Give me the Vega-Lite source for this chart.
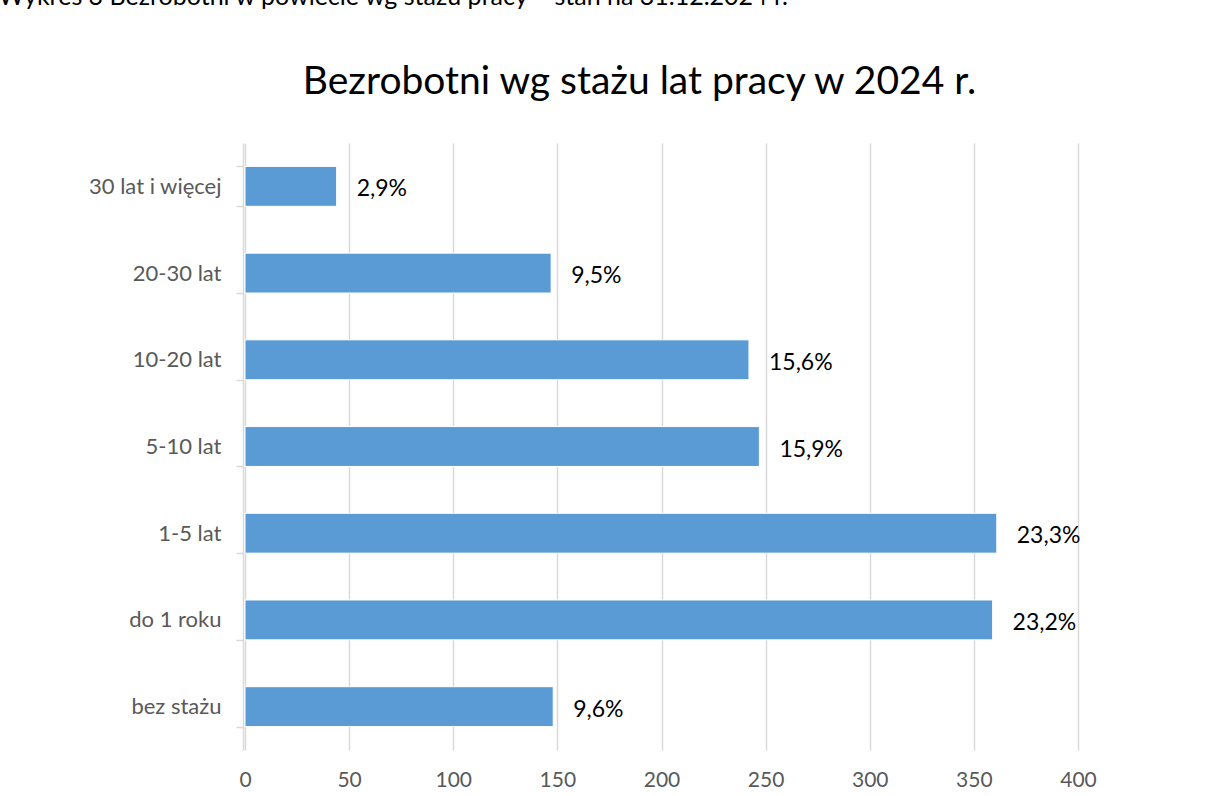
{
  "$schema": "https://vega.github.io/schema/vega-lite/v6.json",
  "width": 833,
  "height": 607,
  "autosize": {"type": "none"},
  "padding": {"left": 245, "top": 143, "right": 130, "bottom": 46},
  "background": "white",
  "title": {
    "text": "Bezrobotni wg stażu lat pracy w 2024 r.",
    "anchor": "middle",
    "frame": "group",
    "dx": -22,
    "offset": -118,
    "fontSize": 39,
    "font": "Lato",
    "fontWeight": "normal",
    "color": "#000000"
  },
  "config": {"view": {"stroke": null}, "font": "Lato"},
  "data": {
    "values": [
      {"kategoria": "30 lat i więcej", "liczba": 44, "label": "2,9%"},
      {"kategoria": "20-30 lat", "liczba": 147, "label": "9,5%"},
      {"kategoria": "10-20 lat", "liczba": 242, "label": "15,6%"},
      {"kategoria": "5-10 lat", "liczba": 247, "label": "15,9%"},
      {"kategoria": "1-5 lat", "liczba": 361, "label": "23,3%"},
      {"kategoria": "do 1 roku", "liczba": 359, "label": "23,2%"},
      {"kategoria": "bez stażu", "liczba": 148, "label": "9,6%"}
    ]
  },
  "encoding": {
    "y": {
      "field": "kategoria",
      "type": "nominal",
      "sort": null,
      "scale": {"paddingInner": 0.54, "paddingOuter": 0.27},
      "axis": {
        "title": "Wykres 3 Bezrobotni w powiecie wg stażu pracy – stan na 31.12.2024 r.",
        "titleX": -245,
        "titleY": -139,
        "titleAngle": 0,
        "titleAlign": "left",
        "titleBaseline": "alphabetic",
        "titleFontSize": 25,
        "titleFontWeight": "normal",
        "titleColor": "#000000",
        "titleFont": "Lato",
        "domainColor": "#d9d9d9",
        "domainWidth": 1.5,
        "tickColor": "#d9d9d9",
        "tickWidth": 1.5,
        "tickSize": 7,
        "tickBand": "extent",
        "offset": 2,
        "labelPadding": 15,
        "labelFontSize": 22,
        "labelColor": "#595959",
        "labelFont": "Lato",
        "grid": false
      }
    },
    "x": {
      "field": "liczba",
      "type": "quantitative",
      "scale": {"domain": [0, 400], "nice": false},
      "axis": {
        "title": null,
        "values": [0, 50, 100, 150, 200, 250, 300, 350, 400],
        "grid": true,
        "gridColor": "#d9d9d9",
        "gridWidth": 1.5,
        "domain": false,
        "ticks": false,
        "labelFlush": false,
        "labelPadding": 19,
        "labelFontSize": 21,
        "labelColor": "#595959",
        "labelFont": "Lato"
      }
    }
  },
  "layer": [
    {"mark": {"type": "bar", "color": "#5b9bd5", "stroke": "#ffffff", "strokeWidth": 1}},
    {
      "mark": {"type": "text", "align": "left", "baseline": "middle", "dx": 20, "dy": 3, "fontSize": 23, "color": "#000000", "font": "Lato"},
      "encoding": {"text": {"field": "label"}}
    }
  ]
}
